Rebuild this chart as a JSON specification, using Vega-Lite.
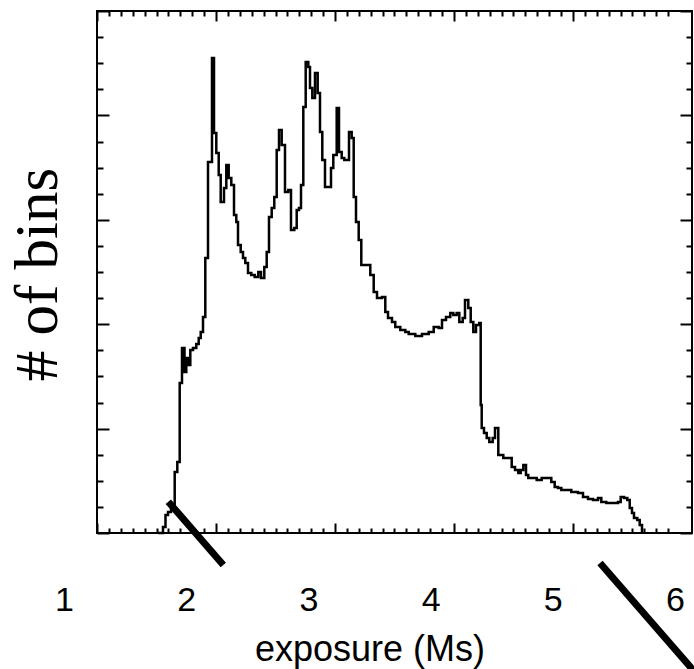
{
  "$schema": "https://vega.github.io/schema/vega-lite/v6.json",
  "width": 595,
  "height": 522,
  "autosize": {"type": "none"},
  "padding": {"left": 97, "top": 11, "right": 2, "bottom": 136},
  "background": "white",
  "config": {
    "view": {"stroke": "black", "strokeWidth": 2},
    "axis": {"grid": false}
  },
  "datasets": {
    "hist": [
      {"exposure": 1.7692, "bins": 0},
      {"exposure": 1.8101, "bins": 5.7},
      {"exposure": 1.8306, "bins": 17.2},
      {"exposure": 1.8511, "bins": 20.1},
      {"exposure": 1.8756, "bins": 24.9},
      {"exposure": 1.9059, "bins": 58.5},
      {"exposure": 1.9272, "bins": 68.0},
      {"exposure": 1.9468, "bins": 143.7},
      {"exposure": 1.9656, "bins": 177.2},
      {"exposure": 1.9861, "bins": 154.2},
      {"exposure": 2.0008, "bins": 167.7},
      {"exposure": 2.0188, "bins": 160.9},
      {"exposure": 2.0336, "bins": 175.3},
      {"exposure": 2.0556, "bins": 177.2},
      {"exposure": 2.0826, "bins": 181.0},
      {"exposure": 2.1023, "bins": 186.8},
      {"exposure": 2.1187, "bins": 192.6},
      {"exposure": 2.1375, "bins": 206.9},
      {"exposure": 2.1563, "bins": 263.4},
      {"exposure": 2.1784, "bins": 355.3},
      {"exposure": 2.2111, "bins": 455.0},
      {"exposure": 2.2275, "bins": 383.1},
      {"exposure": 2.2463, "bins": 364.0},
      {"exposure": 2.2660, "bins": 342.9},
      {"exposure": 2.2823, "bins": 317.1},
      {"exposure": 2.3093, "bins": 330.4},
      {"exposure": 2.3282, "bins": 352.4},
      {"exposure": 2.3478, "bins": 340.0},
      {"exposure": 2.3691, "bins": 333.3},
      {"exposure": 2.3912, "bins": 304.6},
      {"exposure": 2.4100, "bins": 297.9},
      {"exposure": 2.4239, "bins": 275.8},
      {"exposure": 2.4460, "bins": 269.2},
      {"exposure": 2.4648, "bins": 263.4},
      {"exposure": 2.4836, "bins": 258.6},
      {"exposure": 2.5057, "bins": 249.0},
      {"exposure": 2.5327, "bins": 247.1},
      {"exposure": 2.5605, "bins": 245.3},
      {"exposure": 2.5900, "bins": 250.0},
      {"exposure": 2.6121, "bins": 244.3},
      {"exposure": 2.6391, "bins": 254.8},
      {"exposure": 2.6587, "bins": 269.2},
      {"exposure": 2.6776, "bins": 302.6},
      {"exposure": 2.6997, "bins": 311.3},
      {"exposure": 2.7209, "bins": 321.9},
      {"exposure": 2.7406, "bins": 366.9},
      {"exposure": 2.7594, "bins": 386.0},
      {"exposure": 2.7815, "bins": 371.7},
      {"exposure": 2.8085, "bins": 326.6},
      {"exposure": 2.8355, "bins": 328.5},
      {"exposure": 2.8576, "bins": 290.2},
      {"exposure": 2.8846, "bins": 292.2},
      {"exposure": 2.9043, "bins": 309.4},
      {"exposure": 2.9231, "bins": 311.3},
      {"exposure": 2.9395, "bins": 333.3},
      {"exposure": 2.9583, "bins": 408.0},
      {"exposure": 2.9779, "bins": 451.2},
      {"exposure": 2.9992, "bins": 446.4},
      {"exposure": 3.0131, "bins": 426.3},
      {"exposure": 3.0319, "bins": 416.7},
      {"exposure": 3.0540, "bins": 440.6},
      {"exposure": 3.0761, "bins": 421.5},
      {"exposure": 3.0949, "bins": 384.1},
      {"exposure": 3.1137, "bins": 357.3},
      {"exposure": 3.1358, "bins": 331.4},
      {"exposure": 3.1849, "bins": 349.7},
      {"exposure": 3.2038, "bins": 362.1},
      {"exposure": 3.2316, "bins": 407.1},
      {"exposure": 3.2504, "bins": 364.9},
      {"exposure": 3.2725, "bins": 359.2},
      {"exposure": 3.2938, "bins": 357.3},
      {"exposure": 3.3322, "bins": 384.1},
      {"exposure": 3.3543, "bins": 378.4},
      {"exposure": 3.3707, "bins": 321.9},
      {"exposure": 3.3895, "bins": 297.9},
      {"exposure": 3.4116, "bins": 280.6},
      {"exposure": 3.4329, "bins": 256.7},
      {"exposure": 3.5065, "bins": 247.1},
      {"exposure": 3.5344, "bins": 230.8},
      {"exposure": 3.5614, "bins": 225.1},
      {"exposure": 3.6023, "bins": 226.0},
      {"exposure": 3.6293, "bins": 211.7},
      {"exposure": 3.6514, "bins": 205.9},
      {"exposure": 3.6841, "bins": 202.1},
      {"exposure": 3.7111, "bins": 197.3},
      {"exposure": 3.7520, "bins": 194.4},
      {"exposure": 3.7930, "bins": 192.6},
      {"exposure": 3.8208, "bins": 190.6},
      {"exposure": 3.8748, "bins": 188.7},
      {"exposure": 3.9296, "bins": 190.6},
      {"exposure": 3.9845, "bins": 192.6},
      {"exposure": 4.0254, "bins": 197.3},
      {"exposure": 4.0663, "bins": 196.3},
      {"exposure": 4.0933, "bins": 204.0},
      {"exposure": 4.1260, "bins": 206.9},
      {"exposure": 4.1612, "bins": 210.7},
      {"exposure": 4.1857, "bins": 208.8},
      {"exposure": 4.2136, "bins": 210.7},
      {"exposure": 4.2349, "bins": 202.1},
      {"exposure": 4.2627, "bins": 205.9},
      {"exposure": 4.2815, "bins": 223.1},
      {"exposure": 4.3085, "bins": 215.5},
      {"exposure": 4.3282, "bins": 202.1},
      {"exposure": 4.3494, "bins": 192.6},
      {"exposure": 4.3715, "bins": 199.2},
      {"exposure": 4.3985, "bins": 201.1},
      {"exposure": 4.4100, "bins": 122.6},
      {"exposure": 4.4182, "bins": 100.6},
      {"exposure": 4.4370, "bins": 95.8},
      {"exposure": 4.4591, "bins": 91.0},
      {"exposure": 4.4804, "bins": 87.2},
      {"exposure": 4.5082, "bins": 91.0},
      {"exposure": 4.5270, "bins": 100.6},
      {"exposure": 4.5540, "bins": 74.7},
      {"exposure": 4.5949, "bins": 71.8},
      {"exposure": 4.6637, "bins": 63.2},
      {"exposure": 4.6907, "bins": 60.4},
      {"exposure": 4.7177, "bins": 57.5},
      {"exposure": 4.7373, "bins": 60.4},
      {"exposure": 4.7586, "bins": 65.1},
      {"exposure": 4.7807, "bins": 55.6},
      {"exposure": 4.7995, "bins": 52.7},
      {"exposure": 4.8683, "bins": 50.8},
      {"exposure": 4.9092, "bins": 52.7},
      {"exposure": 4.9877, "bins": 48.8},
      {"exposure": 5.0155, "bins": 44.0},
      {"exposure": 5.0426, "bins": 43.1},
      {"exposure": 5.0696, "bins": 41.1},
      {"exposure": 5.1514, "bins": 39.2},
      {"exposure": 5.2062, "bins": 38.3},
      {"exposure": 5.2471, "bins": 34.5},
      {"exposure": 5.2880, "bins": 32.6},
      {"exposure": 5.3290, "bins": 31.6},
      {"exposure": 5.3699, "bins": 33.5},
      {"exposure": 5.3969, "bins": 29.7},
      {"exposure": 5.4378, "bins": 28.7},
      {"exposure": 5.5335, "bins": 29.7},
      {"exposure": 5.5556, "bins": 34.5},
      {"exposure": 5.5826, "bins": 33.5},
      {"exposure": 5.6096, "bins": 31.6},
      {"exposure": 5.6293, "bins": 23.9},
      {"exposure": 5.6481, "bins": 19.2},
      {"exposure": 5.6645, "bins": 14.4},
      {"exposure": 5.6915, "bins": 12.5},
      {"exposure": 5.7111, "bins": 7.7},
      {"exposure": 5.7300, "bins": 0}
    ],
    "zoomlines": [
      {"exposure_from": 1.8535, "bins_from": 30.0, "exposure_to": 2.3036, "bins_to": -30.7},
      {"exposure_from": 5.3863, "bins_from": -28.7, "exposure_to": 6.2046, "bins_to": -138.9}
    ]
  },
  "layer": [
    {
      "data": {"name": "hist"},
      "mark": {"type": "line", "interpolate": "step-after", "color": "black", "strokeWidth": 2.5},
      "encoding": {
        "x": {
          "field": "exposure", "type": "quantitative",
          "scale": {"domain": [1, 6], "range": [-33, 578], "zero": false, "nice": false},
          "axis": {
            "orient": "bottom", "values": [1, 2, 3, 4, 5, 6], "format": "d",
            "domain": false, "ticks": false, "tickSize": 0,
            "labelPadding": 77, "labelBaseline": "alphabetic", "labelFlush": false, "labelOverlap": false,
            "labelFont": "Liberation Sans", "labelFontSize": 34, "labelColor": "black",
            "title": "exposure (Ms)", "titleFont": "Liberation Sans", "titleFontSize": 36,
            "titleFontWeight": "normal", "titleColor": "black", "titleY": 127, "titleBaseline": "alphabetic"
          }
        },
        "y": {
          "field": "bins", "type": "quantitative",
          "scale": {"domain": [0, 500], "nice": false, "zero": true},
          "axis": {
            "orient": "left", "values": [0, 100, 200, 300, 400, 500],
            "labels": false, "domain": false, "tickSize": -12, "tickWidth": 2, "tickColor": "black",
            "title": "# of bins", "titleFont": "Liberation Serif", "titleFontSize": 61,
            "titleFontWeight": "normal", "titleColor": "black", "titleAngle": -90,
            "titleX": -41, "titleY": 263, "titleAlign": "center", "titleBaseline": "alphabetic"
          }
        }
      }
    },
    {
      "data": {"name": "zoomlines"},
      "mark": {"type": "rule", "color": "black", "strokeWidth": 7, "strokeCap": "butt"},
      "encoding": {
        "x": {
          "field": "exposure_from", "type": "quantitative",
          "axis": {
            "orient": "bottom", "values": [1.27005, 2.24386, 3.21767, 4.19148, 5.16529, 6.1391],
            "labels": false, "domain": false, "title": null, "tickSize": -10, "tickWidth": 2, "tickColor": "black"
          }
        },
        "y": {
          "field": "bins_from", "type": "quantitative",
          "axis": {
            "orient": "left", "values": [25, 50, 75, 125, 150, 175, 225, 250, 275, 325, 350, 375, 425, 450, 475],
            "labels": false, "domain": false, "title": null, "tickSize": -6, "tickWidth": 2, "tickColor": "black"
          }
        },
        "x2": {"field": "exposure_to"},
        "y2": {"field": "bins_to"}
      }
    },
    {
      "data": {"name": "hist"},
      "mark": {"type": "point", "opacity": 0},
      "encoding": {
        "x": {
          "field": "exposure", "type": "quantitative",
          "axis": {
            "orient": "bottom",
            "values": [1.36743, 1.46481, 1.56219, 1.65957, 1.75696, 1.85434, 1.95172, 2.0491, 2.14648, 2.34124, 2.43862, 2.536, 2.63339, 2.73077, 2.82815, 2.92553, 3.02291, 3.12029, 3.31505, 3.41243, 3.50982, 3.6072, 3.70458, 3.80196, 3.89934, 3.99672, 4.0941, 4.28886, 4.38625, 4.48363, 4.58101, 4.67839, 4.77577, 4.87315, 4.97053, 5.06791, 5.26267, 5.36006, 5.45744, 5.55482, 5.6522, 5.74958, 5.84696, 5.94434, 6.04172],
            "labels": false, "domain": false, "title": null, "tickSize": -5, "tickWidth": 2, "tickColor": "black"
          }
        },
        "y": {
          "field": "bins", "type": "quantitative",
          "axis": {
            "orient": "right", "values": [0, 100, 200, 300, 400, 500],
            "labels": false, "domain": false, "title": null, "tickSize": -12, "tickWidth": 2, "tickColor": "black"
          }
        }
      }
    },
    {
      "data": {"name": "hist"},
      "mark": {"type": "point", "opacity": 0},
      "encoding": {
        "x": {
          "field": "exposure", "type": "quantitative",
          "axis": {
            "orient": "top", "values": [1.27005, 2.24386, 3.21767, 4.19148, 5.16529, 6.1391],
            "labels": false, "domain": false, "title": null, "tickSize": -10, "tickWidth": 2, "tickColor": "black"
          }
        },
        "y": {
          "field": "bins", "type": "quantitative",
          "axis": {
            "orient": "right", "values": [25, 50, 75, 125, 150, 175, 225, 250, 275, 325, 350, 375, 425, 450, 475],
            "labels": false, "domain": false, "title": null, "tickSize": -6, "tickWidth": 2, "tickColor": "black"
          }
        }
      }
    },
    {
      "data": {"name": "hist"},
      "mark": {"type": "point", "opacity": 0},
      "encoding": {
        "x": {
          "field": "exposure", "type": "quantitative",
          "axis": {
            "orient": "top",
            "values": [1.36743, 1.46481, 1.56219, 1.65957, 1.75696, 1.85434, 1.95172, 2.0491, 2.14648, 2.34124, 2.43862, 2.536, 2.63339, 2.73077, 2.82815, 2.92553, 3.02291, 3.12029, 3.31505, 3.41243, 3.50982, 3.6072, 3.70458, 3.80196, 3.89934, 3.99672, 4.0941, 4.28886, 4.38625, 4.48363, 4.58101, 4.67839, 4.77577, 4.87315, 4.97053, 5.06791, 5.26267, 5.36006, 5.45744, 5.55482, 5.6522, 5.74958, 5.84696, 5.94434, 6.04172],
            "labels": false, "domain": false, "title": null, "tickSize": -5, "tickWidth": 2, "tickColor": "black"
          }
        },
        "y": {"field": "bins", "type": "quantitative", "axis": null}
      }
    }
  ],
  "resolve": {"axis": {"x": "independent", "y": "independent"}}
}
